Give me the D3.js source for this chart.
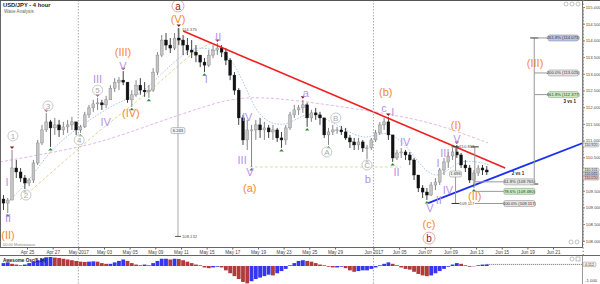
<!DOCTYPE html>
<html><head><meta charset="utf-8">
<script src="https://cdn.jsdelivr.net/npm/d3@7"></script>
<style>
html,body{margin:0;padding:0;background:#fff;}
svg{display:block;font-family:"Liberation Sans",Arial,sans-serif;}
</style></head><body>
<svg id="c" width="600" height="284"></svg>
<script>
// ---------------- DATA ----------------
// 8-hour candles (3 per trading day), starting Apr 21 2017
const firstOpen = 109.25;
const highs = [
109.37,109.28,110.72,110.42,110.18,109.97,109.88,110.42,111.02,111.47,
111.83,111.62,111.68,111.62,111.56,111.62,111.71,111.56,111.47,111.86,
112.07,112.22,112.28,112.22,112.34,112.66,112.87,112.90,113.08,112.75,
112.51,112.81,112.87,112.75,112.66,113.17,113.65,114.16,114.22,114.07,
114.22,114.37,114.16,114.07,114.01,113.86,113.56,113.47,113.71,113.86,
113.92,113.86,113.77,113.47,113.05,112.57,111.77,111.62,111.47,111.62,
111.68,111.56,111.47,111.47,111.38,111.26,111.47,111.86,112.07,112.07,
112.22,112.13,111.92,111.98,111.86,111.68,111.38,111.47,111.41,111.44,
111.38,111.17,111.08,111.08,111.02,110.87,111.08,111.32,111.56,111.68,
111.71,111.17,110.72,110.78,110.72,110.66,110.48,109.97,109.67,109.58,
109.76,109.88,110.18,110.48,110.66,110.78,110.87,110.63,110.42,110.27,
110.12,110.27,110.27,110.24];
const lows = [
108.92,108.83,109.22,109.88,109.76,109.55,109.64,109.73,110.27,110.87,
111.26,110.81,111.17,111.11,111.17,111.23,111.32,111.17,111.23,111.38,
111.68,111.86,111.92,111.92,111.98,112.22,112.46,112.51,112.66,112.13,
112.01,112.31,112.37,112.31,112.28,112.46,112.96,113.50,113.71,113.62,
113.71,113.86,113.56,113.56,113.47,113.35,113.20,113.05,113.20,113.47,
113.56,113.50,113.26,112.81,112.37,111.47,110.87,110.72,110.21,111.02,
111.08,111.02,111.08,111.02,110.96,110.78,110.87,111.32,111.68,111.77,
111.83,111.41,111.56,111.62,111.47,111.08,110.87,111.17,111.20,111.17,
111.02,110.78,110.72,110.72,110.66,110.45,110.72,110.96,111.17,111.32,
111.02,110.36,110.42,110.48,110.42,110.27,109.82,109.46,109.28,109.22,
109.34,109.52,109.67,109.97,110.18,110.42,110.48,110.18,110.06,109.73,
109.58,109.94,109.97,109.97];
const closes = [
109.13,109.22,110.18,110.06,109.88,109.73,109.82,110.33,110.93,111.32,
111.56,111.38,111.47,111.32,111.41,111.47,111.56,111.32,111.41,111.77,
111.98,112.10,112.13,112.07,112.22,112.57,112.75,112.81,112.75,112.22,
112.37,112.66,112.51,112.46,112.51,113.05,113.56,114.01,113.86,113.77,
114.07,114.01,113.86,113.71,113.65,113.56,113.35,113.26,113.56,113.71,
113.77,113.65,113.41,112.96,112.51,111.68,111.02,111.32,111.32,111.47,
111.32,111.38,111.26,111.32,111.08,111.02,111.38,111.77,111.92,111.98,
112.07,111.68,111.83,111.77,111.68,111.17,111.26,111.32,111.32,111.26,
111.08,110.96,110.87,110.96,110.78,110.78,111.02,111.23,111.47,111.56,
111.17,110.48,110.63,110.66,110.57,110.42,109.97,109.58,109.46,109.37,
109.67,109.76,110.12,110.36,110.54,110.66,110.57,110.27,110.18,109.82,
110.03,110.18,110.12,110.06];
// Awesome Oscillator (5,34) values per candle
const aoValues = [
0.2,0.25,0.15,0.1,0.05,0.1,0.2,0.3,0.4,0.5,
0.6,0.62,0.58,0.55,0.5,0.45,0.4,0.35,0.3,0.28,
0.3,0.32,0.3,0.2,0.15,0.15,0.25,0.35,0.45,0.35,
0.2,0.1,0.05,0.1,0.05,0.2,0.35,0.5,0.5,0.45,
0.5,0.48,0.4,0.3,0.2,0.1,0.05,-0.1,-0.15,-0.1,
-0.05,-0.1,-0.3,-0.5,-0.7,-0.9,-1.1,-1.2,-1.05,-0.9,
-0.8,-0.7,-0.6,-0.65,-0.5,-0.35,-0.2,0.05,0.2,0.35,
0.4,0.35,0.3,0.2,0.1,0.05,-0.05,-0.1,-0.1,-0.05,
-0.15,-0.3,-0.4,-0.35,-0.3,-0.3,-0.2,-0.1,0.05,0.15,
0.25,0.15,0.05,-0.1,-0.2,-0.25,-0.4,-0.55,-0.65,-0.7,
-0.65,-0.5,-0.35,-0.2,-0.05,0.1,0.2,0.15,0.05,-0.05,
-0.02,0.05,0.1,0.11];

// date axis: trading-day offset from Apr 25 and label
const dateDays   = [0,2,4,6,8,10,12,14,16,18,20,22,24,27,29,31,33,35,37,39,41];
const dateLabels = ["Apr 25","Apr 27","May 2017","May 03","May 05","May 09","May 11","May 15","May 17","May 19","May 23","May 25","May 29","Jun 2017","Jun 05","Jun 07","Jun 09","Jun 13","Jun 15","Jun 19","Jun 21"];
const monthDays  = [4,27];
// 110.000 is hidden behind the current-price tags
const priceTicks = [108,108.5,109,109.5,110.5,111,111.5,112,112.5,113,113.5,114,114.5,115];

// moving averages: [candle index, price]
const maSlow  = [[-0.81,110.36],[10.88,110.63],[22.57,110.93],[34.26,111.47],[45.95,111.98],[52.96,112.25],[59.98,112.31],[69.33,112.19],[81.02,111.98],[92.71,111.74],[102.06,111.47],[113.28,110.93]];
const maFast  = [[1.52,109.22],[6.2,109.82],[10.88,110.72],[16.72,111.32],[22.57,111.83],[27.95,112.22],[31.93,112.37],[36.6,112.96],[42.91,113.71],[45.95,113.80],[49.46,113.71],[52.96,113.56],[56.47,112.66],[58.81,111.92],[62.32,111.47],[66.99,111.47],[70.5,111.86],[75.18,111.68],[79.85,111.32],[84.53,111.02],[88.04,111.26],[91.55,111.17],[95.06,110.72],[98.57,110.06],[102.06,109.88],[105.57,110.33],[109.08,110.42],[113.76,110.27]];
const maMid   = [[3.86,109.22],[13.21,110.27],[22.57,111.32],[30.75,112.13],[36.6,112.75],[44.78,113.71],[48.76,113.92]];

// trend lines [index, price]
const redLine  = [[42.0,114.28],[117.3,110.18]];
const blueLine = [[99.3,109.13],[135.3,110.92]];
const aLowLine = [[57.6,110.21],[93.0,110.21]];

// pivot markers (candle indices)
const peakIdx   = [2,10,22,28,41,50,70,90,106];
const troughIdx = [1,5,11,18,30,34,47,58,65,71,76,85,91,99,110];

// wave labels [text, index, price]
const orangeLabels = [["(II)",1.06,108.17],["(III)",27.95,113.65],["(IV)",29.8,111.83],["(V)",40.8,114.64],["(a)",57.6,109.58],["(b)",89.4,112.46],["(c)",99.5,108.50],["(I)",105.8,111.46],["(II)",110.2,109.34],["(III)",124.3,113.32]];
const purpleLabels = [["I",0.82,109.76],["II",1.06,108.68],["III",22.0,112.84],["IV",23.9,111.56],["V",27.95,113.23],["I",47.4,112.84],["II",50.2,114.10],["III",55.8,110.42],["IV",57.0,111.71],["V",57.6,110.06],["a",70.7,112.43],["b",85.2,109.85],["c",89.0,111.97],["I",91.0,111.86],["II",91.9,110.06],["IV",93.9,110.96],["V",99.7,108.98],["I",101.6,110.33],["II",101.8,109.22],["III",103.2,110.63],["IV",103.9,109.52],["V",106.0,111.04]];
const circleLabels = [["1",2.2,111.14],["2",5.27,109.37],["3",10.4,112.04],["4",17.7,111.02],["5",22.0,112.51],["A",75.6,110.66],["B",77.7,111.68],["C",85.0,110.27]];
const redCircles   = [["a",40.8,115.03],["b",99.5,108.08]];

// fibonacci tools
const extLevels = [114.073,113.025,112.377];
const extNames  = ["261.8% (114.073)","200.0% (113.025)","161.8% (112.377)"];
const retLevels = [109.765,109.480,109.117];
const retNames  = ["61.8% (109.765)","78.6% (109.480)","100.0% (109.117)"];
const wave1 = [110.813,109.117];
const bigMove = [114.375,108.132];
const axisTags = [["110.920",110.87],["110.101",110.12],["110.065",110.00],["110.050",109.88]];

// ---------------- CHART ----------------
const svg = d3.select("#c");
const R = 582, B = 247;
const x = d3.scaleLinear().domain([-0.5,135.5]).range([1.34,583]);
const y = d3.scaleLinear().domain([108,115]).range([240.8,7]);
const yo = d3.scaleLinear().domain([-1,0]).range([280.5,266]);
const dayX = d => x((d+2)*3-0.5);

svg.append("rect").attr("width",600).attr("height",284).attr("fill","#fff");
svg.append("defs").append("clipPath").attr("id","clip").append("rect").attr("x",0).attr("y",0).attr("width",R).attr("height",B);
const g = svg.append("g").attr("clip-path","url(#clip)");

// month separators
monthDays.forEach(d=>{
  svg.append("line").attr("x1",dayX(d)).attr("x2",dayX(d)).attr("y1",0).attr("y2",284)
    .attr("stroke","#aaa").attr("stroke-width",1).attr("stroke-dasharray","1.5,1.5");
});

// MAs
const lineGen = d3.line().x(d=>x(d[0])).y(d=>y(d[1])).curve(d3.curveBasis);
g.append("path").attr("d",lineGen(maSlow)).attr("fill","none").attr("stroke","#e2b8e6").attr("stroke-width",1).attr("stroke-dasharray","3,2");
g.append("path").attr("d",lineGen(maMid)).attr("fill","none").attr("stroke","#d8d89a").attr("stroke-width",1).attr("stroke-dasharray","3,2");
g.append("path").attr("d",lineGen(maFast)).attr("fill","none").attr("stroke","#a9c4f2").attr("stroke-width",1).attr("stroke-dasharray","1.5,1.5");
g.append("line").attr("x1",x(aLowLine[0][0])).attr("x2",x(aLowLine[1][0])).attr("y1",y(aLowLine[0][1])).attr("y2",y(aLowLine[1][1]))
  .attr("stroke","#dede9e").attr("stroke-dasharray","3,2");

// big vertical measure
const gm = g.append("g").attr("stroke","#aaa").attr("fill","none");
gm.append("line").attr("x1",x(40.8)).attr("x2",x(40.8)).attr("y1",y(bigMove[0])).attr("y2",y(bigMove[1]));
gm.append("line").attr("x1",x(40.8)-3).attr("x2",x(40.8)+3).attr("y1",y(bigMove[1])).attr("y2",y(bigMove[1])).attr("stroke","#555");

// candles
const open = closes.map((c,i)=> i===0 ? firstOpen : closes[i-1]);
const cg = g.append("g");
closes.forEach((c,i)=>{
  const up = c >= open[i];
  const cx = x(i);
  cg.append("line").attr("x1",cx).attr("x2",cx).attr("y1",y(highs[i])).attr("y2",y(lows[i]))
    .attr("stroke", up ? "#666" : "#111").attr("stroke-width",0.8);
  const top = y(Math.max(c,open[i])), bot = y(Math.min(c,open[i]));
  cg.append("rect").attr("x",cx-1.4).attr("width",2.8).attr("y",top).attr("height",Math.max(0.8,bot-top))
    .attr("fill", up ? "#c4c4c4" : "#111").attr("stroke", up ? "#808080" : "#111").attr("stroke-width",0.4);
});

// trend lines
g.append("line").attr("x1",x(redLine[0][0])).attr("x2",x(redLine[1][0])).attr("y1",y(redLine[0][1])).attr("y2",y(redLine[1][1]))
  .attr("stroke","#f02020").attr("stroke-width",1.6);
g.append("line").attr("x1",x(blueLine[0][0])).attr("x2",x(blueLine[1][0])).attr("y1",y(blueLine[0][1])).attr("y2",y(blueLine[1][1]))
  .attr("stroke","#1b2ff0").attr("stroke-width",1.8);

// markers
peakIdx.forEach(i=>{
  const cx=x(i), cy=y(highs[i])-1;
  g.append("path").attr("d",`M${cx-2.2},${cy-2.5}L${cx+2.2},${cy-2.5}L${cx},${cy}Z`).attr("fill","#8b1f1f");
});
troughIdx.forEach(i=>{
  const cx=x(i), cy=y(lows[i])+1;
  g.append("path").attr("d",`M${cx-2.2},${cy+2.5}L${cx+2.2},${cy+2.5}L${cx},${cy}Z`).attr("fill","#2e8b3a");
});

// small text helper
function tag(par, tx, cx, cy, fill, w, h){
  h = h || 6;
  const gg = par.append("g");
  gg.append("rect").attr("x",cx).attr("y",cy-h/2).attr("width",w).attr("height",h).attr("rx",1.5)
    .attr("fill",fill).attr("stroke","#888").attr("stroke-width",0.5);
  gg.append("text").attr("x",cx+w/2).attr("y",cy+1.4).attr("text-anchor","middle").attr("font-size",h<6?3.7:4.2).attr("fill","#333").text(tx);
}

// measure labels
g.append("text").attr("x",x(40.8)+4).attr("y",y(bigMove[0])+3).attr("font-size",4.2).attr("fill","#555").text("114.375");
g.append("text").attr("x",x(40.8)+4).attr("y",y(bigMove[1])+1.5).attr("font-size",4.2).attr("fill","#555").text("108.132");
tag(g, "6.243", x(40.8)-7, y(111.3), "#f4f4f4", 14);

// extension tool (3 vs 1)
const ex = x(124.1);
const eg = g.append("g");
eg.append("line").attr("x1",ex).attr("x2",ex).attr("y1",y(extLevels[0])).attr("y2",y(109.70)).attr("stroke","#999");
[extLevels[0],109.70].forEach(v=>eg.append("line").attr("x1",ex-4).attr("x2",ex+4).attr("y1",y(v)).attr("y2",y(v)).attr("stroke","#333"));
const extFill = ["#b9c3ef","#e4e4e4","#c6efc0"];
extLevels.forEach((v,k)=>{
  eg.append("line").attr("x1",ex).attr("x2",ex+14).attr("y1",y(v)).attr("y2",y(v)).attr("stroke","#999");
  tag(eg, extNames[k], ex+14, y(v), extFill[k], 30);
});
eg.append("text").attr("x",x(132.4)).attr("y",y(112.13)).attr("text-anchor","middle").attr("font-size",4.5).attr("font-weight","bold").attr("fill","#222").text("3 vs 1");

// retracement tool (2 vs 1)
const rx = x(105.7), rx2 = x(110.2);
const rg = g.append("g");
rg.append("line").attr("x1",rx).attr("x2",rx).attr("y1",y(wave1[0])).attr("y2",y(wave1[1])).attr("stroke","#999");
wave1.forEach(v=>rg.append("line").attr("x1",rx-4).attr("x2",rx+4).attr("y1",y(v)).attr("y2",y(v)).attr("stroke","#333"));
rg.append("line").attr("x1",rx2).attr("x2",rx2).attr("y1",y(wave1[0])).attr("y2",y(109.632)).attr("stroke","#999");
rg.append("line").attr("x1",rx2-4).attr("x2",rx2+4).attr("y1",y(wave1[0])).attr("y2",y(wave1[0])).attr("stroke","#333");
rg.append("text").attr("x",rx+4).attr("y",y(wave1[0])+1.5).attr("font-size",4.2).attr("fill","#555").text("110.813");
rg.append("text").attr("x",rx+4).attr("y",y(wave1[1])+1.5).attr("font-size",4.2).attr("fill","#555").text("109.117");
tag(rg, "1.696", rx-6, y(110.0), "#f4f4f4", 12);
const retFill = ["#e4e4e4","#c6efc0","#e4e4e4"];
retLevels.forEach((v,k)=>{
  rg.append("line").attr("x1",rx2).attr("x2",x(117)).attr("y1",y(v)).attr("y2",y(v)).attr("stroke","#999");
  tag(rg, retNames[k], x(117), y(v), retFill[k], 31);
});
rg.append("text").attr("x",x(120.3)).attr("y",y(109.97)).attr("text-anchor","middle").attr("font-size",4.5).attr("font-weight","bold").attr("fill","#222").text("2 vs 1");

// wave labels
const lg = svg.append("g").attr("text-anchor","middle");
orangeLabels.forEach(d=>lg.append("text").attr("x",x(d[1])).attr("y",y(d[2])).attr("dy","0.36em")
  .attr("font-size",11).attr("fill","#f48a2c").text(d[0]));
purpleLabels.forEach(d=>lg.append("text").attr("x",x(d[1])).attr("y",y(d[2])).attr("dy","0.36em")
  .attr("font-size",11).attr("fill","#b792e8").text(d[0]));
circleLabels.forEach(d=>{
  lg.append("circle").attr("cx",x(d[1])).attr("cy",y(d[2])).attr("r",5).attr("fill","#fff").attr("fill-opacity",0.6).attr("stroke","#bbb").attr("stroke-width",0.8);
  lg.append("text").attr("x",x(d[1])).attr("y",y(d[2])).attr("dy","0.36em").attr("font-size",8).attr("fill","#aaa").text(d[0]);
});
redCircles.forEach(d=>{
  lg.append("circle").attr("cx",x(d[1])).attr("cy",y(d[2])).attr("r",6).attr("fill","#fff").attr("stroke","#e0a0a0").attr("stroke-width",0.9);
  lg.append("text").attr("x",x(d[1])).attr("y",y(d[2])).attr("dy","0.36em").attr("font-size",10).attr("fill","#9a2020").text(d[0]);
});

// title
svg.append("text").attr("x",3).attr("y",7).attr("font-size",5.8).attr("font-weight","bold").attr("fill","#222").text("USD/JPY - 4 hour");
svg.append("text").attr("x",4).attr("y",13).attr("font-size",4.6).attr("fill","#666").text("Wave Analysis");
svg.append("text").attr("x",3).attr("y",245.5).attr("font-size",4).attr("fill","#888").text("00:00  Motivewave");

// frames
svg.append("rect").attr("x",0.5).attr("y",0.5).attr("width",R).attr("height",B).attr("fill","none").attr("stroke","#666");
svg.append("line").attr("x1",0).attr("x2",600).attr("y1",255.5).attr("y2",255.5).attr("stroke","#666");
svg.append("line").attr("x1",0).attr("x2",600).attr("y1",0.5).attr("y2",0.5).attr("stroke","#555");

// price axis
const ax = svg.append("g").attr("transform",`translate(${R+0.5},0)`);
ax.call(d3.axisRight(y).tickValues(d3.range(107.6,115.3,0.1)).tickSize(1.5).tickFormat(""));
ax.call(g2=>g2.select(".domain").attr("stroke","#999"));
const ax2 = svg.append("g").attr("transform",`translate(${R+0.5},0)`);
ax2.call(d3.axisRight(y).tickValues(priceTicks).tickSize(2.5).tickPadding(0.8).tickFormat(d3.format(".3f")));
ax2.selectAll("text").attr("font-size",4.3).attr("fill","#444");
ax2.select(".domain").remove();
svg.selectAll(".tick line").attr("stroke","#888");

// axis tags for blue line and current price
const tagFill = ["#eef0f8","#e8e8e8","#c8cdf3","#f3c8c8"];
axisTags.forEach((t,k)=>tag(svg, t[0], 583, y(t[1]), tagFill[k], 16, 4));

// date axis
const dx = svg.append("g").attr("transform",`translate(0,${B+0.5})`);
dx.call(d3.axisBottom(x).tickValues(dateDays.map(d=>(d+2)*3-0.5)).tickSize(2).tickPadding(1).tickFormat((d,k)=>dateLabels[k]));
dx.select(".domain").remove();
dx.selectAll("text").attr("font-size",4.6).attr("fill","#444");
dx.selectAll("line").attr("stroke","#666");

// oscillator
const og = svg.append("g");
aoValues.forEach((v,i)=>{
  const upc = i===0 ? true : v >= aoValues[i-1];
  og.append("rect").attr("x",x(i)-1.9).attr("width",3.8)
    .attr("y",Math.min(yo(v),yo(0))).attr("height",Math.abs(yo(v)-yo(0)))
    .attr("fill", upc ? "#3636f2" : "#b23a3a");
});
og.append("line").attr("x1",x(aoValues.length-1)).attr("x2",R).attr("y1",yo(0.11)).attr("y2",yo(0.11)).attr("stroke","#666").attr("stroke-dasharray","1,1");
og.append("text").attr("x",3).attr("y",261.5).attr("font-size",4.6).attr("font-weight","bold").attr("fill","#222").text("Awesome Osc(5,34)");
og.append("line").attr("x1",R+0.5).attr("x2",R+0.5).attr("y1",256).attr("y2",284).attr("stroke","#999");
tag(og, "0.112", 583, yo(0.11), "#f4f4f4", 13, 4.5);
og.append("text").attr("x",585).attr("y",yo(-1)+1.5).attr("font-size",4.3).attr("fill","#444").text("-1.000");

// icons
[566,572,578].forEach(cx=>svg.append("circle").attr("cx",cx).attr("cy",4).attr("r",2).attr("fill","none").attr("stroke","#999").attr("stroke-width",0.6));
[571,577].forEach(cx=>svg.append("circle").attr("cx",cx).attr("cy",242).attr("r",2).attr("fill","none").attr("stroke","#999").attr("stroke-width",0.6));
svg.append("circle").attr("cx",572).attr("cy",259).attr("r",2).attr("fill","none").attr("stroke","#999").attr("stroke-width",0.6);
svg.append("rect").attr("x",576).attr("y",257).attr("width",4).attr("height",4).attr("fill","none").attr("stroke","#999").attr("stroke-width",0.6);
</script>
</body></html>
